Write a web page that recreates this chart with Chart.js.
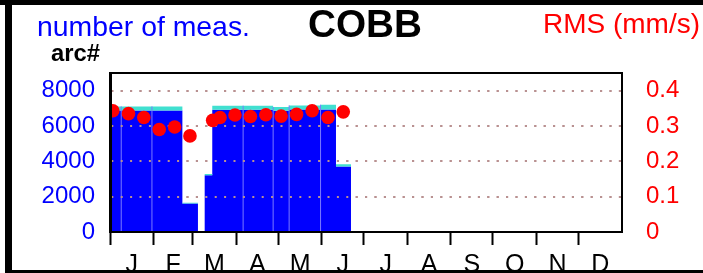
<!DOCTYPE html>
<html><head><meta charset="utf-8">
<script src="https://cdn.jsdelivr.net/npm/chart.js@4.4.0/dist/chart.umd.min.js"></script>
<style>
html,body{margin:0;padding:0;background:#fff;}
#wrap{position:relative;width:703px;height:273px;overflow:hidden;background:#fff;}
#c{position:absolute;left:0;top:0;}
.bar{position:absolute;background:#000;z-index:3;}
.t{position:absolute;white-space:nowrap;line-height:1.15;font-family:'Liberation Sans',Arial,sans-serif;transform-origin:0 0;z-index:4;}
</style>
</head><body>
<div id="wrap">
<canvas id="c" width="703" height="273"></canvas>
<div class="bar" style="left:0;top:0;width:703px;height:5px"></div>
<div class="bar" style="left:5px;top:0;width:7px;height:273px"></div>
<div class="bar" style="left:5px;top:270px;width:698px;height:3px"></div>
<div class="t" data-w="213" style="left:37px;top:11px;font-size:28px;color:#0000ff">number of meas.</div>
<div class="t" data-w="49" style="left:51px;top:38.9px;font-size:24px;font-weight:bold;color:#000">arc#</div>
<div class="t" data-w="114" style="left:308px;top:2.4px;font-size:38.7px;font-weight:bold;color:#000">COBB</div>
<div class="t" data-w="157" style="left:543px;top:8.2px;font-size:28px;color:#ff0000">RMS (mm/s)</div>
</div>
<script>
// ---- data ----
const monthLabels = ['J','F','M','A','M','J','J','A','S','O','N','D'];
const monthStartDays = [0,31,59,90,120,151,181,212,243,273,304,334,365];
const leftTicks = [0,2000,4000,6000,8000];
const rightTicks = [0,0.1,0.2,0.3,0.4];
// measurement bins (day of year where each bin starts)
const binStartDays = [0, 51.6, 62.7, 67.5, 72.9, 116.3, 127.7, 150.1, 161.1, 171.8];
const measArc   = [6880, 1610, 0, 3210, 6920, 6865, 6940, 6940, 3705, 0];
const measOther = [230, 50, 0, 80, 230, 210, 225, 265, 135, 0];
const separatorDays = [8.0, 29.9, 94.9, 116.3, 127.7, 150.1];
// RMS points
const rmsDays   = [2.0, 13.2, 24.1, 35.1, 46.1, 57.0, 73.2, 78.4, 89.1, 100.1, 111.1, 122.0, 133.0, 144.1, 155.4, 166.3];
const rmsValues = [0.343, 0.335, 0.324, 0.290, 0.297, 0.272, 0.316, 0.324, 0.331, 0.327, 0.332, 0.328, 0.333, 0.343, 0.324, 0.340];

// ---- derived ----
const tickDays = [];
for (let i = 0; i < 12; i++) {
  tickDays.push(monthStartDays[i]);
  tickDays.push((monthStartDays[i] + monthStartDays[i+1]) / 2);
}
const totals = measArc.map((v,i) => v + measOther[i]);
const blueData = binStartDays.map((d,i) => ({x:d, y:measArc[i]}));
const tealData = binStartDays.map((d,i) => ({x:d, y:totals[i]}));
function totalAt(d){ let k = 0; for (let i=0;i<binStartDays.length;i++) if (binStartDays[i] <= d) k = i; return totals[k]; }
const sepData = [];
separatorDays.forEach(d => { sepData.push({x:d,y:0}); sepData.push({x:d,y:totalAt(d)}); sepData.push({x:d,y:null}); });
const rmsData = rmsDays.map((d,i) => ({x:d, y:rmsValues[i]}));

const boxPlugin = {
  id: 'box',
  beforeDatasetDraw(chart, args) {
    if (args.index === 3) chart.scales.y.drawGrid(chart.chartArea);
  },
  afterDraw(chart) {
    const {ctx, chartArea:a} = chart;
    ctx.save();
    ctx.strokeStyle = '#000';
    ctx.lineWidth = 2;
    ctx.strokeRect(a.left, a.top, a.right - a.left, a.bottom - a.top);
    ctx.lineWidth = 3;
    ctx.beginPath(); ctx.moveTo(a.left + 0.5, a.top - 1); ctx.lineTo(a.left + 0.5, a.bottom + 1); ctx.stroke();
    ctx.restore();
  }
};

const tickFont = {family: "'Liberation Sans', Arial, sans-serif", size: 24};
const monthFont = {family: "'Liberation Sans', Arial, sans-serif", size: 25};

new Chart(document.getElementById('c'), {
  type: 'line',
  data: {
    datasets: [
      {data: blueData, stepped: true, fill: 'origin', backgroundColor: '#0000ff', borderColor: 'rgba(0,0,0,0)', borderWidth: 0, pointRadius: 0, order: 4, yAxisID: 'y'},
      {data: tealData, stepped: true, fill: '-1', backgroundColor: '#40e0d0', borderColor: 'rgba(0,0,0,0)', borderWidth: 0, pointRadius: 0, order: 3, yAxisID: 'y'},
      {data: sepData, spanGaps: false, fill: false, borderColor: '#7a7aff', borderWidth: 1, pointRadius: 0, order: 2, yAxisID: 'y'},
      {data: rmsData, showLine: false, pointRadius: 6.8, pointBackgroundColor: '#ff0000', pointBorderWidth: 0, pointBorderColor: '#ff0000', order: 1, yAxisID: 'y1'}
    ]
  },
  options: {
    responsive: false,
    animation: false,
    events: [],
    layout: {padding: {top: 73, left: 0, right: 0, bottom: 0}},
    plugins: {legend: {display: false}, tooltip: {enabled: false}},
    scales: {
      x: {
        type: 'linear', min: 0, max: 365, position: 'bottom',
        afterBuildTicks: s => { s.ticks = tickDays.map(v => ({value: v})); },
        afterFit: s => { s.height = 41; },
        ticks: {autoSkip: false, maxRotation: 0, minRotation: 0, padding: 5, color: '#000',
          font: monthFont,
          callback: (v, i) => (i % 2 ? monthLabels[(i - 1) / 2] : '')},
        grid: {drawOnChartArea: false, drawTicks: true, tickLength: 13, tickWidth: 2,
          color: 'rgba(0,0,0,0)',
          tickColor: ctx => (ctx.index % 2 === 0 ? '#000' : 'rgba(0,0,0,0)')},
        border: {display: false}
      },
      y: {
        type: 'linear', position: 'left', min: 0, max: 9000,
        afterBuildTicks: s => { s.ticks = leftTicks.map(v => ({value: v})); },
        afterFit: s => { s.width = 110; },
        ticks: {color: '#0000ff', padding: 15, font: tickFont, callback: v => String(v)},
        grid: {color: 'rgb(185,145,145)', lineWidth: 2, drawTicks: false},
        border: {display: false, dash: [2, 7.4], dashOffset: -1.3}
      },
      y1: {
        type: 'linear', position: 'right', min: 0, max: 0.45,
        afterBuildTicks: s => { s.ticks = rightTicks.map(v => ({value: v})); },
        afterFit: s => { s.width = 81; },
        ticks: {color: '#ff0000', padding: 16, font: tickFont, callback: v => (v === 0 ? '0' : v.toFixed(1))},
        grid: {display: false},
        border: {display: false}
      }
    }
  },
  plugins: [boxPlugin]
});

document.querySelectorAll('.t').forEach(el => {
  const w = el.getBoundingClientRect().width;
  const target = parseFloat(el.dataset.w);
  el.style.transform = 'scaleX(' + (target / w) + ')';
});
</script>
</body></html>
